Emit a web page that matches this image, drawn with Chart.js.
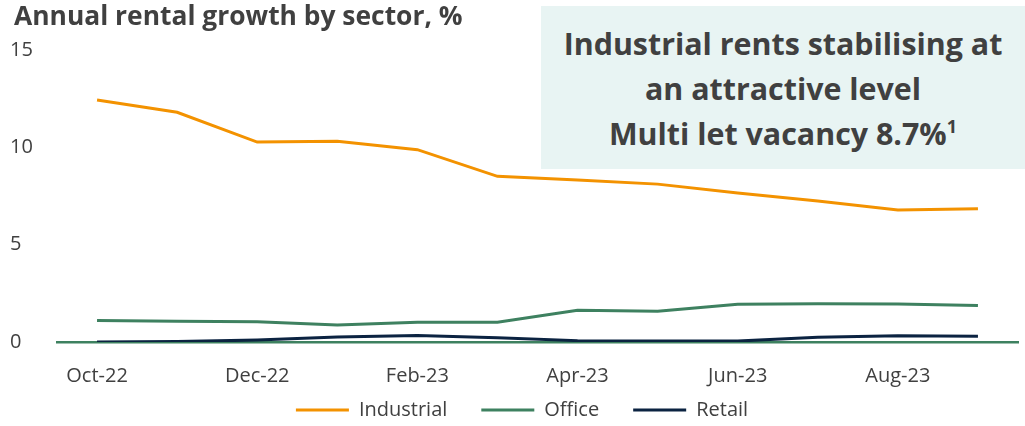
<!DOCTYPE html>
<html>
<head>
<meta charset="utf-8">
<script src="https://cdn.jsdelivr.net/npm/chart.js@4"></script>
<style>
  body { margin: 0; background: #fff; font-family: "Open Sans", sans-serif; }
  #wrap { position: relative; width: 1025px; height: 426px; }
  #title { position: absolute; left: 14px; top: -3px; font-weight: bold; font-size: 26.4px; color: #404040; white-space: nowrap; }
  #callout {
    position: absolute; left: 541px; top: 6px; width: 484px; height: 163px;
    background: #e8f4f3; color: #404040; font-weight: bold; font-size: 30.4px;
    text-align: center; line-height: 45px; padding-top: 15px; box-sizing: border-box;
  }
  #callout sup { font-size: 18px; line-height: 0; vertical-align: 12px; }
  canvas { position: absolute; left: 0; top: 0; }
</style>
</head>
<body>
<div id="wrap">
  <canvas id="chart" width="1025" height="426"></canvas>
  <div id="title">Annual rental growth by sector, %</div>
  <div id="callout">Industrial rents stabilising at<br>an attractive level<br>Multi let vacancy 8.7%<sup>1</sup></div>
</div>
<script>
const months = ["Oct-22", "Nov-22", "Dec-22", "Jan-23", "Feb-23", "Mar-23",
  "Apr-23", "May-23", "Jun-23", "Jul-23", "Aug-23", "Sep-23"];
const industrial = [12.43, 11.8, 10.27, 10.31, 9.88, 8.51, 8.32, 8.11, 7.65, 7.24, 6.78, 6.85];
const office = [1.11, 1.06, 1.04, 0.87, 1.01, 1.01, 1.63, 1.58, 1.94, 1.97, 1.95, 1.88];
const retail = [0.0, 0.02, 0.1, 0.26, 0.34, 0.22, 0.07, 0.05, 0.05, 0.24, 0.32, 0.29];
const yTicks = [0, 5, 10, 15];

const textColor = "#404040";
const tickFont = { family: "Open Sans", size: 20 };

function line(label, data, color) {
  return {
    label: label,
    data: data,
    borderColor: color,
    backgroundColor: color,
    borderWidth: 3,
    pointRadius: 0,
    tension: 0,
    fill: false
  };
}

// legend padding is large for wide item spacing; grow the box upwards so the row sits higher
const legendLift = {
  id: "legendLift",
  afterLayout(chart) {
    chart.legend.top -= 26;
    chart.legend.height += 26;
    chart.legend.left += 8;
    chart.legend.right += 8;
  }
};

new Chart(document.getElementById("chart"), {
  type: "line",
  data: {
    labels: months,
    datasets: [
      line("Industrial", industrial, "#f39200"),
      line("Office", office, "#3e8160"),
      line("Retail", retail, "#0b2341")
    ]
  },
  plugins: [legendLift],
  options: {
    responsive: false,
    animation: false,
    layout: { padding: { left: 10, right: 7, top: 50, bottom: 0 } },
    plugins: {
      tooltip: { enabled: false },
      legend: {
        position: "bottom",
        maxHeight: 34,
        labels: {
          usePointStyle: true,
          pointStyle: "line",
          pointStyleWidth: 53,
          padding: 34,
          color: textColor,
          font: tickFont
        }
      }
    },
    scales: {
      x: {
        offset: true,
        afterFit(scale) { scale.height = 50; },
        grid: { display: false, drawTicks: false },
        border: { display: true, color: "#3e8160", width: 2.5 },
        ticks: {
          autoSkip: false,
          maxRotation: 0,
          padding: 22,
          color: textColor,
          font: tickFont,
          callback(value, index) {
            return index % 2 === 0 ? months[index] : "";
          }
        }
      },
      y: {
        min: yTicks[0],
        max: yTicks[yTicks.length - 1],
        afterFit(scale) { scale.width = 47; },
        afterBuildTicks(scale) { scale.ticks = yTicks.map((v) => ({ value: v })); },
        grid: { display: false, drawTicks: false },
        border: { display: false },
        ticks: {
          crossAlign: "far",
          color: textColor,
          font: tickFont
        }
      }
    }
  }
});
</script>
</body>
</html>
